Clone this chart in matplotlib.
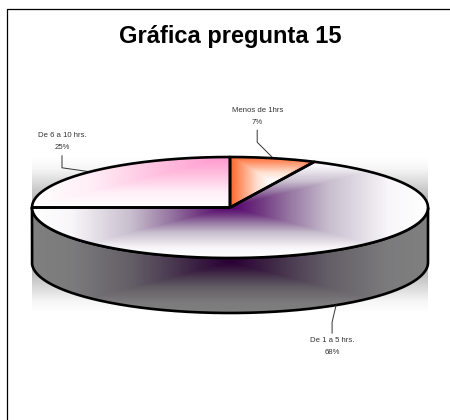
import numpy as np
import matplotlib
matplotlib.use("Agg")
from matplotlib import pyplot as plt
from matplotlib.colors import LinearSegmentedColormap
from matplotlib.patches import PathPatch
from matplotlib.path import Path

title = "Gráfica pregunta 15"
categories = ["Menos de 1hrs", "De 1 a 5 hrs.", "De 6 a 10 hrs."]
percents = [7, 68, 25]

# pie geometry in image pixels
CX, CY, RX, RY, DEPTH = 230, 207.5, 198, 50.5, 55

plt.rcParams["font.family"] = ["Liberation Sans", "DejaVu Sans"]


def cmap(stops):
    return LinearSegmentedColormap.from_list("g", [(t, np.array(c) / 255) for t, c in stops])


purple = cmap([(0, (85, 0, 110)), (0.15, (112, 55, 128)), (0.3, (150, 118, 162)), (0.5, (200, 190, 206)),
               (0.8, (248, 246, 249)), (1, (255, 255, 255))])
pink = cmap([(0, (255, 150, 205)), (0.35, (255, 190, 222)), (0.7, (255, 238, 246)), (1, (255, 255, 255))])
orange = cmap([(0, (255, 255, 255)), (0.35, (255, 225, 210)), (1, (255, 100, 40))])
grey = cmap([(0, (120, 120, 120)), (0.6, (205, 205, 205)), (0.85, (246, 246, 246)), (1, (255, 255, 255))])


def edge(t, dy=0):
    # t is the angle in degrees clockwise from the top of the ellipse
    r = np.radians(t)
    return np.column_stack([CX + RX * np.sin(r), CY + dy - RY * np.cos(r)])


def shade(ax, box, center, colors, clip, factor=1.0, z=2):
    x0, x1, y0, y1 = box
    cx, cy, sx, sy = center
    yy, xx = np.mgrid[y0:y1:400j, x0:x1:800j]
    t = np.maximum(np.abs(xx - cx) / sx, np.abs(yy - cy) / sy).clip(0, 1)
    rgb = colors(t)[..., :3] * factor
    im = ax.imshow(rgb, extent=(x0, x1, y1, y0), aspect="auto", zorder=z, interpolation="bilinear")
    im.set_clip_path(clip)


def wedge_path(a0, a1):
    pts = edge(np.linspace(a0, a1, 200))
    pts = np.vstack([[CX, CY], pts, [CX, CY]])
    return Path(pts)


fig = plt.figure(figsize=(4.5, 4.2), dpi=100)
ax = fig.add_axes([0, 0, 1, 1])
ax.axis("off")

# backdrop band behind the pie
backdrop = PathPatch(Path([(CX - RX, CY - RY), (CX + RX, CY - RY), (CX + RX, CY + RY + DEPTH),
                           (CX - RX, CY + RY + DEPTH)]), fc="none", ec="none")
ax.add_patch(backdrop)
shade(ax, (CX - RX, CX + RX, CY - RY, CY + RY + DEPTH),
      (CX, CY + DEPTH / 2, 1e6, RY + DEPTH / 2), grey, backdrop, z=1)

# side wall
front = np.linspace(90, 270, 300)
wall = Path(np.vstack([edge(front), edge(front[::-1], DEPTH), edge(front[:1])]))
wall_patch = PathPatch(wall, fc="none", ec="none")
ax.add_patch(wall_patch)
shade(ax, (CX - RX, CX + RX, CY, CY + RY + DEPTH), (CX, CY + DEPTH, RX, RY), purple, wall_patch, factor=0.5, z=2)
ax.add_patch(PathPatch(wall, fc="none", ec="black", lw=1.9, zorder=3, joinstyle="round"))

# top slices, clockwise from 12 o'clock
ends = np.cumsum(percents) * 3.6
starts = ends - np.array(percents) * 3.6
for i, (a0, a1) in enumerate(zip(starts, ends)):
    path = wedge_path(a0, a1)
    patch = PathPatch(path, fc="none", ec="none")
    ax.add_patch(patch)
    pts = path.vertices
    x0, x1, y0, y1 = pts[:, 0].min(), pts[:, 0].max(), pts[:, 1].min(), pts[:, 1].max()
    if i == 0:
        shade(ax, (x0, x1, y0, y1), ((x0 + x1) / 2, (y0 + y1) / 2, (x1 - x0) / 2, (y1 - y0) / 2), orange, patch, z=4)
    elif i == 1:
        shade(ax, (x0, x1, y0, y1), (CX, CY, RX, RY), purple, patch, z=4)
    else:
        shade(ax, (x0, x1, y0, y1), (x1, y0, x1 - x0, y1 - y0), pink, patch, z=4)
for a0, a1 in zip(starts, ends):
    ax.add_patch(PathPatch(wedge_path(a0, a1), fc="none", ec="black", lw=1.9, zorder=5, joinstyle="round"))

# labels with leader lines: elbow offset from the rim, then the vertical run
elbow = [(-16, -16), (-4, 17), (-28, -4)]
run = [-12, 11, -12]
text_dy = [-48, 35, -36]
for i, name in enumerate(categories):
    mid = (starts[i] + ends[i]) / 2
    dy = DEPTH if 90 < mid < 270 else 0
    px, py = edge(np.array([mid]), dy)[0]
    ex, ey = px + elbow[i][0], py + elbow[i][1]
    ax.plot([px, ex, ex], [py, ey, ey + run[i]], color="#333333", lw=0.7, zorder=3)
    ty = py + text_dy[i]
    ax.text(ex, ty, name, ha="center", va="center", fontsize=5.6, color="#333333", zorder=6)
    ax.text(ex, ty + 12, f"{percents[i]}%", ha="center", va="center", fontsize=5.6, color="#333333", zorder=6)

ax.text(230, 37, title, ha="center", va="center", fontsize=17, fontweight="bold", color="black")

# outer frame, only top and left fall inside the picture
ax.plot([450, 6.5, 6.5], [8.5, 8.5, 420], color="black", lw=0.9, zorder=6)

ax.set_xlim(0, 450)
ax.set_ylim(420, 0)
fig.savefig("out.png", dpi=100)
